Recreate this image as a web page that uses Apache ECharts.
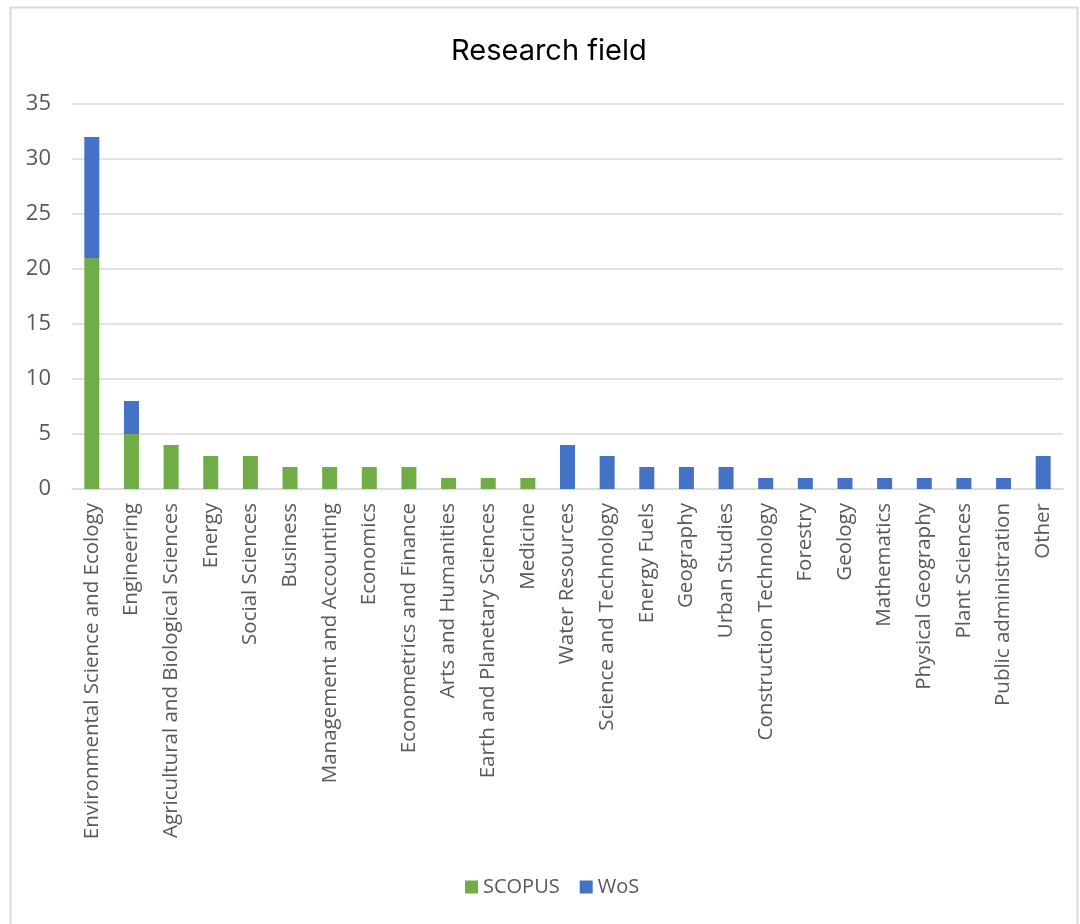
<!DOCTYPE html>
<html>
<head>
<meta charset="utf-8">
<script src="https://cdn.jsdelivr.net/npm/echarts@6/dist/echarts.min.js"></script>
<style>
  html, body { margin: 0; padding: 0; background: #fff; }
  #chart { width: 1080px; height: 924px; }
</style>
</head>
<body>
<div id="chart"></div>
<script>
// 研究领域分类
const categories = [
  'Environmental Science and Ecology', 'Engineering', 'Agricultural and Biological Sciences',
  'Energy', 'Social Sciences', 'Business', 'Management and Accounting', 'Economics',
  'Econometrics and Finance', 'Arts and Humanities', 'Earth and Planetary Sciences',
  'Medicine', 'Water Resources', 'Science and Technology', 'Energy Fuels', 'Geography',
  'Urban Studies', 'Construction Technology', 'Forestry', 'Geology', 'Mathematics',
  'Physical Geography', 'Plant Sciences', 'Public administration', 'Other'
]

// 各数据库数量
const scopusValues = [21, 5, 4, 3, 3, 2, 2, 2, 2, 1, 1, 1, 0, 0, 0, 0, 0, 0, 0, 0, 0, 0, 0, 0, 0]
const wosValues = [11, 3, 0, 0, 0, 0, 0, 0, 0, 0, 0, 0, 4, 3, 2, 2, 2, 1, 1, 1, 1, 1, 1, 1, 3]

const fontFamily = '"Open Sans", "Liberation Sans", sans-serif'
const chart = echarts.init(document.getElementById('chart'))

const option = {
  animation: false,
  title: {
    text: 'Research field',
    left: 446,
    top: 32,
    textStyle: { color: '#000', fontSize: 29, fontWeight: 'normal', fontFamily: '"Inter", "Open Sans", sans-serif' }
  },
  graphic: [{
    type: 'rect',
    left: 8, top: 5,
    shape: { width: 1067, height: 940 },
    style: { fill: 'none', stroke: '#d9d9d9', lineWidth: 2 },
    silent: true
  }],
  legend: {
    bottom: 22,
    left: 460,
    itemWidth: 13,
    itemHeight: 13,
    itemGap: 20,
    icon: 'rect',
    textStyle: { color: '#595959', fontSize: 20, fontFamily }
  },
  grid: { left: 72, right: 17, top: 104, bottom: 435 },
  xAxis: {
    type: 'category',
    data: categories,
    axisLine: { lineStyle: { color: '#d9d9d9', width: 1.5 } },
    axisTick: { show: false },
    axisLabel: {
      rotate: 90,
      interval: 0,
      color: '#595959',
      fontSize: 20.5,
      fontFamily,
      margin: 14
    }
  },
  yAxis: {
    type: 'value',
    min: 0, max: 35, interval: 5,
    axisLine: { show: false },
    axisTick: { show: false },
    axisLabel: { color: '#595959', fontSize: 22, fontFamily, margin: 21 },
    splitLine: { lineStyle: { color: '#d9d9d9', width: 1.5 } }
  },
  series: [
    {
      name: 'SCOPUS', type: 'bar', stack: 'total', barWidth: 15,
      itemStyle: { color: '#70ad47' },
      data: scopusValues
    },
    {
      name: 'WoS', type: 'bar', stack: 'total', barWidth: 15,
      itemStyle: { color: '#4472c4' },
      data: wosValues
    }
  ]
}

chart.setOption(option)
</script>
</body>
</html>
